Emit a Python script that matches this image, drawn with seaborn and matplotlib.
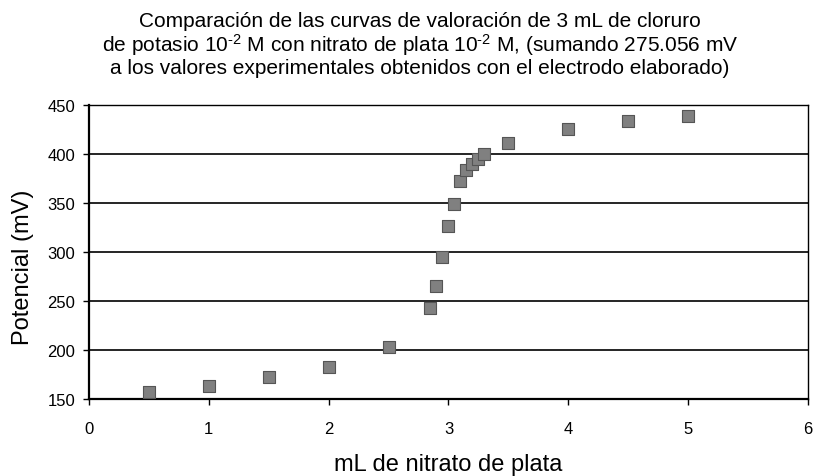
import numpy as np
import pandas as pd
import matplotlib
matplotlib.use("Agg")
import matplotlib.pyplot as plt
import seaborn as sns

# volumen de AgNO3 (mL) y potencial (mV)
ml_agno3 = [0.5, 1.0, 1.5, 2.0, 2.5, 2.85, 2.9, 2.95, 3.0, 3.05, 3.1,
            3.15, 3.2, 3.25, 3.3, 3.5, 4.0, 4.5, 5.0]
potencial = [157, 163, 172, 183, 203, 243, 265, 295, 327, 349, 372,
             384, 390, 395, 400, 411, 425, 434, 439]

x_ticks = [0, 1, 2, 3, 4, 5, 6]
y_ticks = [150, 200, 250, 300, 350, 400, 450]

TITLE = ("Comparación de las curvas de valoración de 3 mL de cloruro\n"
         "de potasio 10$^{\u20102}$ M con nitrato de plata 10$^{\u20102}$ M, (sumando 275.056 mV\n"
         "a los valores experimentales obtenidos con el electrodo elaborado)")

df = pd.DataFrame({"mL": ml_agno3, "mV": potencial})

sns.set_theme(style="white", rc={"text.color": "black", "axes.labelcolor": "black",
                                 "xtick.color": "black", "ytick.color": "black"})
plt.rcParams["font.family"] = ["Liberation Sans", "DejaVu Sans"]
plt.rcParams["mathtext.default"] = "regular"

fig = plt.figure(figsize=(8.14, 4.77), dpi=100)
ax = fig.add_axes([0.1093, 0.1614, 0.8833, 0.6164])

sns.scatterplot(data=df, x="mL", y="mV", ax=ax, marker="s", s=80,
                color="#808080", edgecolor="#555555", linewidth=0.8, zorder=3)

ax.set_xlim(0, 6)
ax.set_ylim(150, 450)
ax.set_xticks(x_ticks)
ax.set_yticks(y_ticks)
ax.tick_params(axis="both", labelsize=12, direction="out", length=4, width=1,
               color="black", labelcolor="black", bottom=True, left=True)
ax.tick_params(axis="x", pad=12)
ax.tick_params(axis="y", pad=6)
for v in y_ticks[1:]:
    ax.axhline(v, color="black", lw=1.2, zorder=1)

for side in ["left", "bottom"]:
    ax.spines[side].set_color("black")
    ax.spines[side].set_linewidth(1.6)
for side in ["right", "top"]:
    ax.spines[side].set_color("black")
    ax.spines[side].set_linewidth(1.0)

ax.set_xlabel("mL de nitrato de plata", fontsize=17, labelpad=12, color="black")
ax.set_ylabel("Potencial (mV)", fontsize=17, color="black")
ax.yaxis.set_label_coords(-0.077, 0.45)

fig.text(0.516, 0.975, TITLE, ha="center", va="top", fontsize=15,
         linespacing=1.05, color="black")

fig.savefig("out.png", dpi=100)
